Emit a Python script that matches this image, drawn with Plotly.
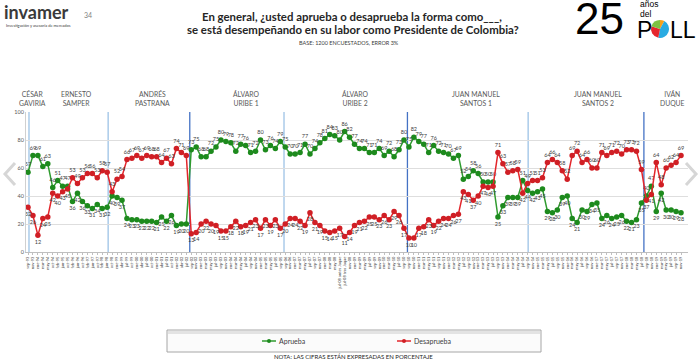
import plotly.graph_objects as go

# ---------------- data ----------------
aprueba_gaviria = [57, 69, 69, 61, 63]
aprueba_samper = [46, 51, 47, 47, 36, 42, 36, 33, 31, 34, 31, 32]
aprueba_pastrana = [40, 39, 37, 24, 23, 23, 22, 22, 22, 21, 25, 22, 26, 19, 20, 20]
aprueba_uribe1 = [73, 75, 68, 68, 72, 75, 80, 79, 78, 72, 77, 76, 71, 72, 80, 73, 76, 74, 79]
aprueba_uribe2 = [75, 70, 70, 71, 77, 70, 74, 78, 81, 84, 83, 80, 86, 82, 77, 74, 74, 71, 71, 74, 69, 72, 68, 73, 80]
aprueba_santos1 = [75, 82, 79, 77, 71, 76, 72, 71, 70, 67, 69, 52, 54, 58, 56, 50, 50, 50, 25, 33, 39, 39, 39, 51]
aprueba_santos2 = [44, 42, 43, 45, 29, 28, 30, 39, 40, 24, 21, 30, 29, 34, 35, 24, 26, 24, 25, 26, 22, 21, 23, 35]
aprueba_duque = [40, 47, 29, 42, 30, 30, 29, 28]

desaprueba_gaviria = [32, 26, 12, 24, 25]
desaprueba_samper = [42, 40, 43, 45, 53, 49, 53, 56, 56, 53, 58, 57]
desaprueba_pastrana = [43, 52, 54, 66, 67, 69, 67, 69, 68, 68, 64, 67, 63, 74, 71, 69]
desaprueba_uribe1 = [13, 14, 20, 22, 20, 19, 15, 15, 18, 22, 18, 19, 21, 23, 17, 23, 19, 23, 17]
desaprueba_uribe2 = [20, 24, 24, 22, 19, 28, 21, 19, 15, 14, 15, 17, 11, 14, 19, 21, 22, 25, 25, 23, 26, 23, 29, 26, 17]
desaprueba_santos1 = [10, 10, 17, 18, 23, 19, 22, 24, 24, 26, 27, 43, 41, 37, 40, 47, 46, 47, 71, 63, 57, 58, 59, 42]
desaprueba_santos2 = [49, 51, 51, 53, 64, 66, 64, 58, 52, 69, 72, 64, 66, 60, 60, 71, 69, 71, 72, 70, 73, 73, 72, 59]
desaprueba_duque = [37, 41, 64, 48, 60, 62, 64, 69]

presidentes = ["CÉSAR<br>GAVIRIA", "ERNESTO<br>SAMPER", "ANDRÉS<br>PASTRANA", "ÁLVARO<br>URIBE 1",
               "ÁLVARO<br>URIBE 2", "JUAN MANUEL<br>SANTOS 1", "JUAN MANUEL<br>SANTOS 2", "IVÁN<br>DUQUE"]

meses = ["ene", "feb", "mar", "abr", "may", "jun", "jul", "ago", "sep", "oct", "nov", "dic"]
# (number of polls, first year, first month index, month step) per period
periodos = [(5, 1993, 8, 2), (12, 1994, 9, 4), (16, 1998, 9, 3), (19, 2002, 8, 2),
            (25, 2006, 8, 2), (24, 2010, 8, 2), (24, 2014, 8, 2), (8, 2018, 8, 2)]
etiquetas_x = []
for n, y0, m0, step in periodos:
    for i in range(n):
        m = m0 + i * step
        etiquetas_x.append(f"{meses[m % 12]}-{str(y0 + m // 12)[2:]}")
etiquetas_x[63] = "jul-08 antes Jaque"
etiquetas_x[64] = "jul-08 tras Jaque"

aprueba = (aprueba_gaviria + aprueba_samper + aprueba_pastrana + aprueba_uribe1 +
           aprueba_uribe2 + aprueba_santos1 + aprueba_santos2 + aprueba_duque)
desaprueba = (desaprueba_gaviria + desaprueba_samper + desaprueba_pastrana + desaprueba_uribe1 +
              desaprueba_uribe2 + desaprueba_santos1 + desaprueba_santos2 + desaprueba_duque)
x = list(range(len(aprueba)))

# ---------------- figure ----------------
W, H = 700, 361
PL, PR, PT, PB = 26, 688, 112, 252  # plot area in pixels


def px(v):
    return v / W


def py(v):
    return 1 - v / H


GREEN_L, GREEN_M = "#2f9b2f", "#1d8a1d"
RED_L, RED_M = "#e3262b", "#d01f25"

pos_g = ["top center" if a >= d else "bottom center" for a, d in zip(aprueba, desaprueba)]
pos_r = ["bottom center" if a >= d else "top center" for a, d in zip(aprueba, desaprueba)]

fig = go.Figure()
fig.add_trace(go.Scatter(
    x=x, y=aprueba, mode="lines+markers+text", name="Aprueba",
    line=dict(color=GREEN_L, width=1.5), marker=dict(color=GREEN_M, size=5.5),
    text=[str(v) for v in aprueba], textposition=pos_g,
    textfont=dict(size=5.5, color="#404040", family="Lato"), showlegend=False))
fig.add_trace(go.Scatter(
    x=x, y=desaprueba, mode="lines+markers+text", name="Desaprueba",
    line=dict(color=RED_L, width=1.5), marker=dict(color=RED_M, size=5.5),
    text=[str(v) for v in desaprueba], textposition=pos_r,
    textfont=dict(size=5.5, color="#404040", family="Lato"), showlegend=False))

# pie used as the "O" of POLL
fig.add_trace(go.Pie(values=[8, 45, 27, 20], sort=False, direction="clockwise", rotation=0,
                     marker=dict(colors=["#f7a21b", "#29abe2", "#e5262d", "#7cc242"], line=dict(width=0)),
                     textinfo="none", hoverinfo="skip", showlegend=False,
                     domain=dict(x=[px(651), px(669)], y=[py(38), py(20)])))

scale = (681 - 28) / (len(x) - 1)
x0 = -(28 - PL) / scale
x1 = x0 + (PR - PL) / scale

fig.update_layout(
    width=W, height=H, margin=dict(l=0, r=0, t=0, b=0, autoexpand=False),
    paper_bgcolor="white", plot_bgcolor="white",
    font=dict(family="Lato", color="#404040"),
    xaxis=dict(domain=[px(PL), px(PR)], range=[x0, x1], tickmode="array", tickvals=x,
               ticktext=etiquetas_x, tickangle=-90, tickfont=dict(size=4, color="#404040"),
               showgrid=False, zeroline=False, showline=True, linecolor="#bfbfbf",
               ticks="outside", ticklen=2, tickcolor="#bfbfbf", automargin=False),
    yaxis=dict(domain=[py(PB), py(PT)], range=[0, 100], tickvals=[0, 20, 40, 60, 80, 100],
               tickfont=dict(size=5.5, color="#595959"), showgrid=True, gridcolor="#dedede",
               zeroline=False, showline=True, linecolor="#d0d0d0", automargin=False),
)

# period dividers
divs = [(0.2, "#9dc3e6"), (16.2, "#9dc3e6"), (32.7, "#4472c4"), (51.75, "#9dc3e6"),
        (76.7, "#4472c4"), (101.1, "#9dc3e6"), (124.5, "#4472c4")]
for xv, c in divs:
    fig.add_shape(type="line", xref="x", yref="y", x0=xv, x1=xv, y0=0, y1=100,
                  line=dict(color=c, width=1.3), layer="below")

# president labels
pres_x = [32, 76, 152, 246, 355, 476, 598, 672]
for name, cx in zip(presidentes, pres_x):
    fig.add_annotation(x=px(cx), y=py(98.5), xref="paper", yref="paper", text=name, showarrow=False,
                       font=dict(size=6.8, color="#595959", family="Lato"), align="center",
                       xanchor="center", yanchor="middle")

# header
fig.add_annotation(x=px(352), y=py(17), xref="paper", yref="paper",
                   text="<b>En general, ¿usted aprueba o desaprueba la forma como___,</b>",
                   showarrow=False, font=dict(size=11.4, color="#262626", family="Lato"),
                   xanchor="center", yanchor="middle")
fig.add_annotation(x=px(353), y=py(29), xref="paper", yref="paper",
                   text="<b>se está desempeñando en su labor como Presidente de Colombia?</b>",
                   showarrow=False, font=dict(size=11.4, color="#262626", family="Lato"),
                   xanchor="center", yanchor="middle")
fig.add_annotation(x=px(349), y=py(43), xref="paper", yref="paper",
                   text="BASE: 1200 ENCUESTADOS, ERROR 3%", showarrow=False,
                   font=dict(size=5.5, color="#404040", family="Lato"), xanchor="center", yanchor="middle")
fig.add_annotation(x=px(88), y=py(15), xref="paper", yref="paper", text="34", showarrow=False,
                   font=dict(size=7, color="#7f7f7f", family="Lato"), xanchor="center", yanchor="middle")
fig.add_annotation(x=px(2), y=py(12), xref="paper", yref="paper", text="<b>invamer</b>", showarrow=False,
                   font=dict(size=18, color="#3a3a3a", family="Lato"), xanchor="left", yanchor="middle")
fig.add_annotation(x=px(4), y=py(25), xref="paper", yref="paper", text="Investigación y asesoría de mercados",
                   showarrow=False, font=dict(size=4, color="#3a3a3a", family="Lato"),
                   xanchor="left", yanchor="middle")

# 25 años del POLL
fig.add_annotation(x=px(573), y=py(19), xref="paper", yref="paper", text="25", showarrow=False,
                   font=dict(size=44, color="#000000", family="Liberation Sans"), xanchor="left", yanchor="middle")
fig.add_annotation(x=px(638), y=py(4), xref="paper", yref="paper", text="años", showarrow=False,
                   font=dict(size=8.5, color="#000000", family="Liberation Sans"), xanchor="left", yanchor="middle")
fig.add_annotation(x=px(638), y=py(14.5), xref="paper", yref="paper", text="del", showarrow=False,
                   font=dict(size=8.5, color="#000000", family="Liberation Sans"), xanchor="left", yanchor="middle")
fig.add_annotation(x=px(635), y=py(29.5), xref="paper", yref="paper", text="P", showarrow=False,
                   font=dict(size=23, color="#000000", family="Liberation Sans"), xanchor="left", yanchor="middle")
fig.add_annotation(x=px(668), y=py(29.5), xref="paper", yref="paper", text="LL", showarrow=False,
                   font=dict(size=23, color="#000000", family="Liberation Sans"), xanchor="left", yanchor="middle")

# legend box
fig.add_shape(type="rect", xref="paper", yref="paper", x0=px(167), x1=px(541), y0=py(352), y1=py(330),
              fillcolor="#fbfbfb", line=dict(color="#a6a6a6", width=1))
fig.add_shape(type="rect", xref="paper", yref="paper", x0=px(168), x1=px(540), y0=py(334), y1=py(331),
              fillcolor="#e3e3e3", line=dict(width=0))
for lx, col_l, col_m, label in [(262, GREEN_L, GREEN_M, "Aprueba"), (397, RED_L, RED_M, "Desaprueba")]:
    fig.add_shape(type="line", xref="paper", yref="paper", x0=px(lx), x1=px(lx + 14), y0=py(341), y1=py(341),
                  line=dict(color=col_l, width=1.5))
    fig.add_shape(type="circle", xref="paper", yref="paper", x0=px(lx + 5), x1=px(lx + 9), y0=py(343), y1=py(339),
                  fillcolor=col_m, line=dict(width=0))
    fig.add_annotation(x=px(lx + 15), y=py(341), xref="paper", yref="paper", text=label, showarrow=False,
                       font=dict(size=7, color="#404040", family="Lato"), xanchor="left", yanchor="middle")

fig.add_annotation(x=px(353), y=py(356), xref="paper", yref="paper",
                   text="NOTA: LAS CIFRAS ESTÁN EXPRESADAS EN PORCENTAJE", showarrow=False,
                   font=dict(size=6, color="#262626", family="Lato"), xanchor="center", yanchor="middle")

# navigation arrows
fig.add_shape(type="path", xref="paper", yref="paper",
              path=f"M {px(15)} {py(163)} L {px(5)} {py(174)} L {px(15)} {py(185)}",
              line=dict(color="#d6d6d6", width=3))
fig.add_shape(type="path", xref="paper", yref="paper",
              path=f"M {px(686)} {py(163)} L {px(696)} {py(174)} L {px(686)} {py(185)}",
              line=dict(color="#d6d6d6", width=3))

fig.write_html("out.html", config={"displayModeBar": False},
               post_script="document.body.style.margin='0';")
